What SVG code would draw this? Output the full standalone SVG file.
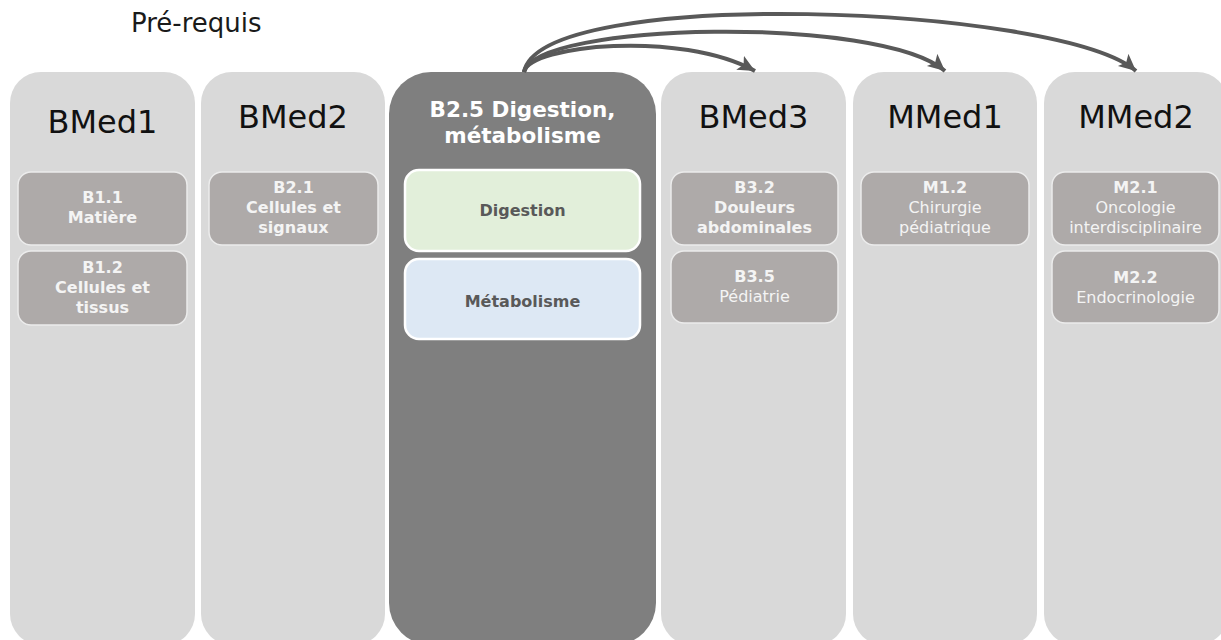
<svg xmlns="http://www.w3.org/2000/svg" width="1221" height="640" viewBox="0 0 1221 640">
<defs>
<style>
.col{fill:#d9d9d9}
.colDark{fill:#7f7f7f}
.sub{fill:#aeaaa9;stroke:#ececec;stroke-width:1.5}
.ttl{font-family:"DejaVu Sans",Verdana,sans-serif;font-size:32px;fill:#111;text-anchor:middle}
.st{font-family:"DejaVu Sans",Verdana,sans-serif;font-size:16px;fill:#f4f4f4;text-anchor:middle}
.b{font-weight:bold}
.mid{font-family:"DejaVu Sans",Verdana,sans-serif;font-size:16px;font-weight:bold;fill:#595959;text-anchor:middle}
.arr{fill:none;stroke:#595959;stroke-width:4;marker-end:url(#ah)}
</style>
<marker id="ah" markerUnits="userSpaceOnUse" markerWidth="20" markerHeight="18" refX="17" refY="8" orient="auto" viewBox="0 0 20 18">
<path d="M0,0 L17,8 L0,16 L4,8 Z" fill="#595959"/>
</marker>
</defs>
<rect width="1221" height="640" fill="#ffffff"/>
<text x="131" y="32" font-family="DejaVu Sans,Verdana,sans-serif" font-size="26" fill="#1a1a1a">Pré-requis</text>

<g id="bmed1">
<rect class="col" x="10" y="72" width="185" height="573" rx="31"/>
<text class="ttl" x="102.5" y="133">BMed1</text>
<g id="b11"><rect class="sub" x="18" y="172" width="169" height="73" rx="13"/>
<text class="st b" x="102.5" y="203">B1.1</text><text class="st b" x="102.5" y="223">Matière</text></g>
<g id="b12"><rect class="sub" x="18" y="251" width="169" height="74" rx="13"/>
<text class="st b" x="102.5" y="273">B1.2</text><text class="st b" x="102.5" y="293">Cellules et</text><text class="st b" x="102.5" y="313">tissus</text></g>
</g>

<g id="bmed2">
<rect class="col" x="201" y="72" width="184" height="573" rx="31"/>
<text class="ttl" x="293" y="128">BMed2</text>
<g id="b21"><rect class="sub" x="209" y="172" width="169" height="73" rx="13"/>
<text class="st b" x="293.5" y="193">B2.1</text><text class="st b" x="293.5" y="213">Cellules et</text><text class="st b" x="293.5" y="233">signaux</text></g>
</g>

<g id="b25">
<rect class="colDark" x="389" y="72" width="267" height="573" rx="42"/>
<text x="522.5" y="117" font-family="DejaVu Sans,Verdana,sans-serif" font-size="21.5" font-weight="bold" fill="#ffffff" text-anchor="middle">B2.5 Digestion,</text>
<text x="522.5" y="143" font-family="DejaVu Sans,Verdana,sans-serif" font-size="21.5" font-weight="bold" fill="#ffffff" text-anchor="middle">métabolisme</text>
<g id="digestion"><rect x="405" y="170" width="235" height="81" rx="14" fill="#e2efda" stroke="#ffffff" stroke-width="2.5"/>
<text class="mid" x="522.5" y="216">Digestion</text></g>
<g id="metabolisme"><rect x="405" y="259" width="235" height="80" rx="14" fill="#dde8f4" stroke="#ffffff" stroke-width="2.5"/>
<text class="mid" x="522.5" y="307">Métabolisme</text></g>
</g>

<g id="bmed3">
<rect class="col" x="661" y="72" width="185" height="573" rx="31"/>
<text class="ttl" x="753.5" y="128">BMed3</text>
<g id="b32"><rect class="sub" x="671" y="172" width="167" height="73" rx="13"/>
<text class="st b" x="754.5" y="193">B3.2</text><text class="st b" x="754.5" y="213">Douleurs</text><text class="st b" x="754.5" y="233">abdominales</text></g>
<g id="b35"><rect class="sub" x="671" y="251" width="167" height="72" rx="13"/>
<text class="st b" x="754.5" y="282">B3.5</text><text class="st" x="754.5" y="302">Pédiatrie</text></g>
</g>

<g id="mmed1">
<rect class="col" x="853" y="72" width="184" height="573" rx="31"/>
<text class="ttl" x="945" y="128">MMed1</text>
<g id="m12"><rect class="sub" x="861" y="172" width="168" height="73" rx="13"/>
<text class="st b" x="945" y="193">M1.2</text><text class="st" x="945" y="213">Chirurgie</text><text class="st" x="945" y="233">pédiatrique</text></g>
</g>

<g id="mmed2">
<rect class="col" x="1044" y="72" width="184" height="573" rx="31"/>
<text class="ttl" x="1136" y="128">MMed2</text>
<g id="m21"><rect class="sub" x="1052" y="172" width="167" height="73" rx="13"/>
<text class="st b" x="1135.5" y="193">M2.1</text><text class="st" x="1135.5" y="213">Oncologie</text><text class="st" x="1135.5" y="233">interdisciplinaire</text></g>
<g id="m22"><rect class="sub" x="1052" y="251" width="167" height="72" rx="13"/>
<text class="st b" x="1135.5" y="283">M2.2</text><text class="st" x="1135.5" y="303">Endocrinologie</text></g>
</g>

<g id="connectors">
<path class="arr" d="M524,72 C530,45 680,30 755,71"/>
<path class="arr" d="M524,72 C535,22 880,15 945,71"/>
<path class="arr" d="M524,72 C540,-15 1060,5 1136,71"/>
</g>
</svg>
